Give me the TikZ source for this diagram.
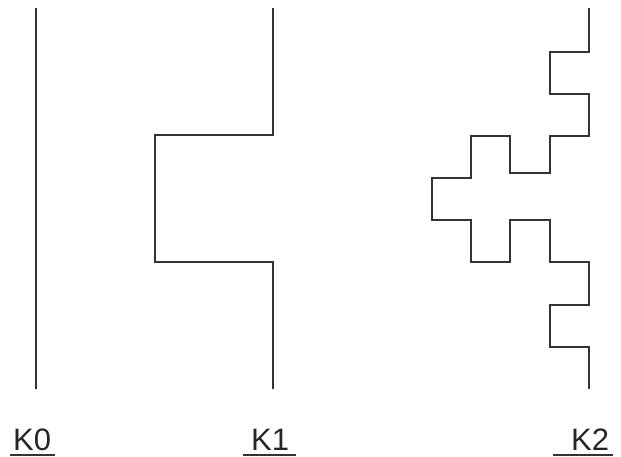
\documentclass[tikz,border=0pt]{standalone}
\usepackage{fontspec}
\setmainfont{Liberation Sans}
\usetikzlibrary{positioning}

\begin{document}
\begin{tikzpicture}[
  x=1pt, y=-1pt,
  curve/.style={draw=black!80, line width=1.7pt, line join=miter},
  lbl/.style={anchor=base west, inner sep=0pt, text=black!85,
    font=\fontsize{31}{31}\selectfont},
  uline/.style={draw=black!80, line width=1.6pt}
]
  \useasboundingbox (0,0) rectangle (621,457);
  % iteration 0
  \draw[curve] (36,8) -- (36,389);
  % iteration 1
  \draw[curve] (273,8) -- (273,135) -- (155,135) -- (155,262) -- (273,262) -- (273,389);
  % iteration 2
  \draw[curve] (589,8) -- (589,52) -- (550,52) -- (550,94) -- (589,94) -- (589,136)
    -- (550,136) -- (550,173) -- (510,173) -- (510,136) -- (471,136)
    -- (471,178) -- (432,178) -- (432,220) -- (471,220) -- (471,262)
    -- (510,262) -- (510,220) -- (550,220) -- (550,262) -- (589,262)
    -- (589,305) -- (550,305) -- (550,347) -- (589,347) -- (589,389);
  % labels
  \node[lbl] (k0) at (13,450) {K0};
  \node[lbl] (k1) at (251,450) {K1};
  \node[lbl] (k2) at (571,450) {K2};
  \draw[uline] (10,455) -- (55,455);
  \draw[uline] (243,455) -- (296,455);
  \draw[uline] (553,455) -- (613,455);
\end{tikzpicture}
\end{document}
